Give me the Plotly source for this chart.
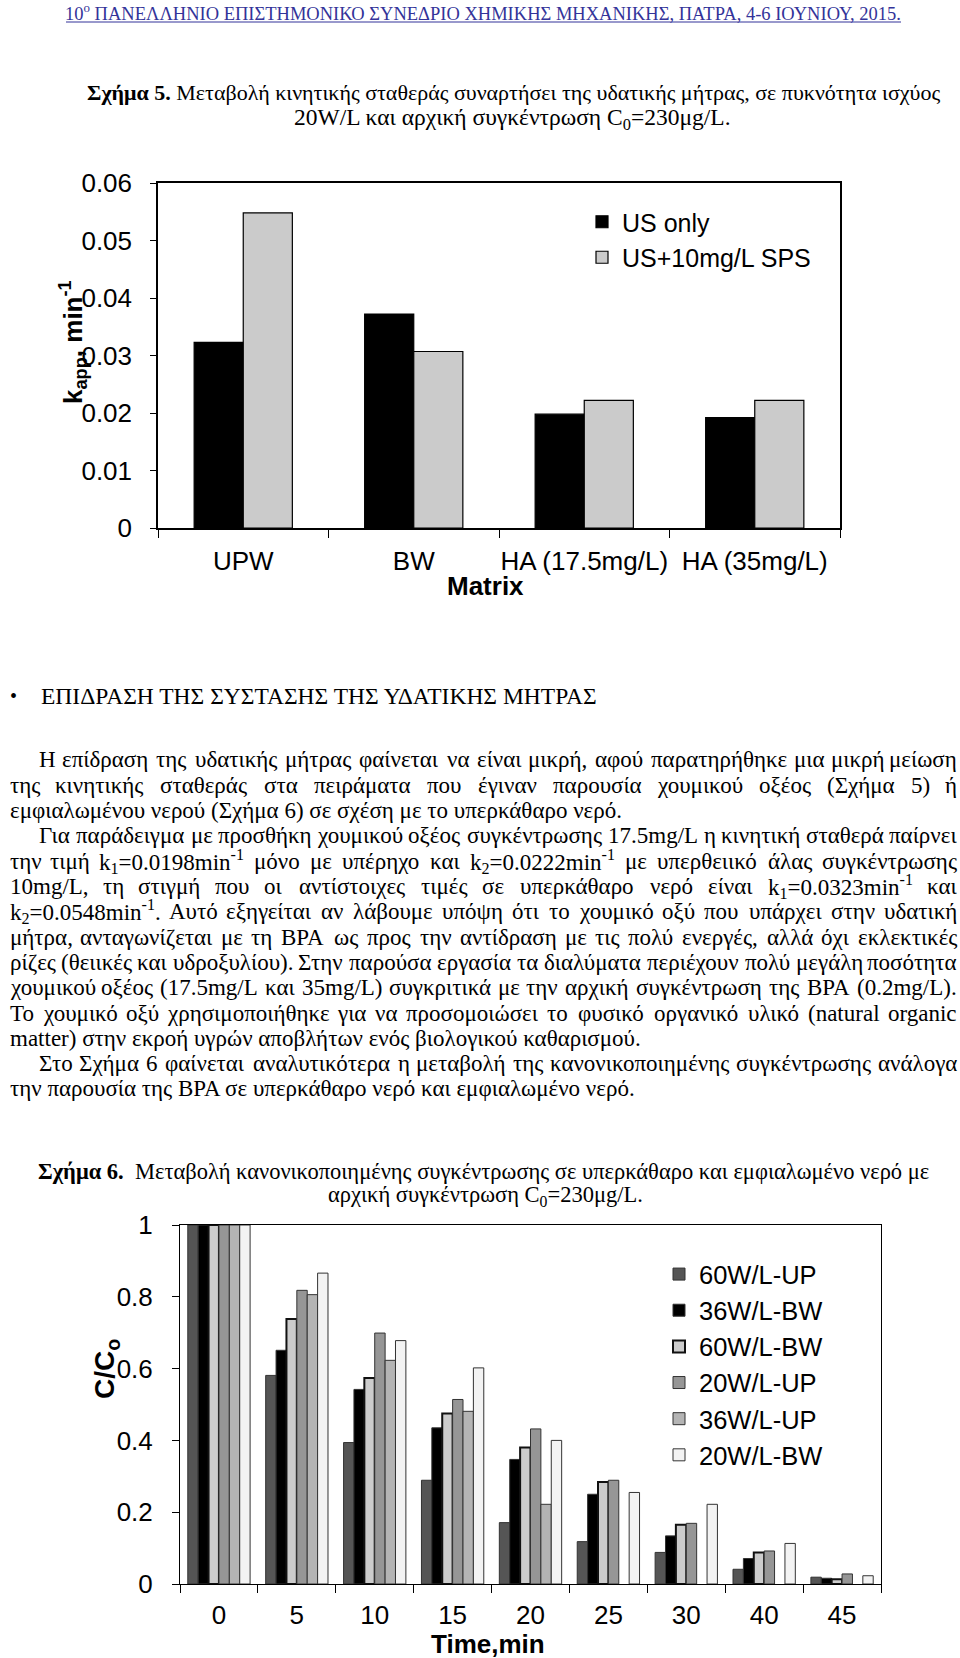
import re
import unicodedata
import plotly.graph_objects as go

W, H = 960, 1658
def fx(x): return x / W
def fy(y): return 1 - y / H

# ---------------- Chart data ----------------
matrix = ["UPW", "BW", "HA (17.5mg/L)", "HA (35mg/L)"]
k_us_only = [0.0323, 0.0372, 0.0198, 0.0192]
k_us_sps = [0.0548, 0.0307, 0.0222, 0.0222]

times = ["0", "5", "10", "15", "20", "25", "30", "40", "45"]
c_60_up = [1.0, 0.581, 0.394, 0.289, 0.171, 0.118, 0.088, 0.041, 0.019]
c_36_bw = [1.0, 0.651, 0.542, 0.435, 0.347, 0.250, 0.134, 0.071, 0.016]
c_60_bw = [1.0, 0.738, 0.574, 0.475, 0.380, 0.284, 0.165, 0.088, 0.013]
c_20_up = [1.0, 0.818, 0.699, 0.514, 0.432, 0.289, 0.169, 0.092, 0.028]
c_36_up = [1.0, 0.806, 0.623, 0.481, 0.222, None, None, None, None]
c_20_bw = [1.0, 0.866, 0.678, 0.602, 0.400, 0.255, 0.222, 0.113, 0.023]

series2_names = ["60W/L-UP", "36W/L-BW", "60W/L-BW", "20W/L-UP", "36W/L-UP", "20W/L-BW"]
series2_values = [c_60_up, c_36_bw, c_60_bw, c_20_up, c_36_up, c_20_bw]
series2_colors = ["#555555", "#000000", "#cccccc", "#969696", "#b4b4b4", "#f3f3f3"]
series2_line_w = [1, 1, 2, 1, 1, 1]

# ---------------- Page text ----------------
header = "10<sup>ο</sup> ΠΑΝΕΛΛΗΝΙΟ ΕΠΙΣΤΗΜΟΝΙΚΟ ΣΥΝΕΔΡΙΟ ΧΗΜΙΚΗΣ ΜΗΧΑΝΙΚΗΣ, ΠΑΤΡΑ, 4-6 ΙΟΥΝΙΟΥ, 2015."
cap5 = ["<b>Σχήμα 5.</b> Μεταβολή κινητικής σταθεράς συναρτήσει της υδατικής μήτρας, σε πυκνότητα ισχύος",
        "20W/L και αρχική συγκέντρωση C<sub>0</sub>=230μg/L."]
cap6 = ["<b>Σχήμα 6.</b>  Μεταβολή κανονικοποιημένης συγκέντρωσης σε υπερκάθαρο και εμφιαλωμένο νερό με",
        "αρχική συγκέντρωση C<sub>0</sub>=230μg/L."]
heading = "ΕΠΙΔΡΑΣΗ ΤΗΣ ΣΥΣΤΑΣΗΣ ΤΗΣ ΥΔΑΤΙΚΗΣ ΜΗΤΡΑΣ"
# (text, indented, justified)
body = [
    ("Η επίδραση της υδατικής μήτρας φαίνεται να είναι μικρή, αφού παρατηρήθηκε μια μικρή μείωση", True, True),
    ("της κινητικής σταθεράς στα πειράματα που έγιναν παρουσία χουμικού οξέος (Σχήμα 5) ή", False, True),
    ("εμφιαλωμένου νερού (Σχήμα 6) σε σχέση με το υπερκάθαρο νερό.", False, False),
    ("Για παράδειγμα με προσθήκη χουμικού οξέος συγκέντρωσης 17.5mg/L η κινητική σταθερά παίρνει", True, True),
    ("την τιμή k<sub>1</sub>=0.0198min<sup>-1</sup> μόνο με υπέρηχο και k<sub>2</sub>=0.0222min<sup>-1</sup> με υπερθειικό άλας συγκέντρωσης", False, True),
    ("10mg/L, τη στιγμή που οι αντίστοιχες τιμές σε υπερκάθαρο νερό είναι k<sub>1</sub>=0.0323min<sup>-1</sup> και", False, True),
    ("k<sub>2</sub>=0.0548min<sup>-1</sup>. Αυτό εξηγείται αν λάβουμε υπόψη ότι το χουμικό οξύ που υπάρχει στην υδατική", False, True),
    ("μήτρα, ανταγωνίζεται με τη ΒΡΑ ως προς την αντίδραση με τις πολύ ενεργές, αλλά όχι εκλεκτικές", False, True),
    ("ρίζες (θειικές και υδροξυλίου). Στην παρούσα εργασία τα διαλύματα περιέχουν πολύ μεγάλη ποσότητα", False, True),
    ("χουμικού οξέος (17.5mg/L και 35mg/L) συγκριτικά με την αρχική συγκέντρωση της ΒΡΑ (0.2mg/L).", False, True),
    ("Το χουμικό οξύ χρησιμοποιήθηκε για να προσομοιώσει το φυσικό οργανικό υλικό (natural organic", False, True),
    ("matter) στην εκροή υγρών αποβλήτων ενός βιολογικού καθαρισμού.", False, False),
    ("Στο Σχήμα 6 φαίνεται αναλυτικότερα η μεταβολή της κανονικοποιημένης συγκέντρωσης ανάλογα", True, True),
    ("την παρουσία της ΒΡΑ σε υπερκάθαρο νερό και εμφιαλωμένο νερό.", False, False),
]
body_y0, body_dy = 760, 25.3
BODY_SIZE = 23

SERIF = "Liberation Serif, Times New Roman, serif"
SANS = "Liberation Sans, Arial, sans-serif"

# approximate Times advance widths (1/1000 em), used only to space justified words
_TW = {" ": 250, "(": 333, ")": 333, ",": 250, "-": 333, ".": 250, "/": 278, "=": 564, ":": 278}
_TW.update({d: 500 for d in "0123456789"})
_TW.update(dict(zip("ABCDEFGHIJKLMNOPQRSTUVWXYZ",
                    [722, 667, 667, 722, 611, 556, 722, 722, 333, 389, 722, 611, 889, 722, 722, 556, 722, 667, 556, 611, 722, 722, 944, 722, 722, 611])))
_TW.update(dict(zip("abcdefghijklmnopqrstuvwxyz",
                    [444, 500, 444, 500, 444, 333, 500, 500, 278, 278, 500, 278, 778, 500, 500, 500, 500, 333, 389, 278, 500, 500, 722, 500, 500, 444])))
_TW.update(dict(zip("ΑΒΓΔΕΖΗΘΙΚΛΜΝΞΟΠΡΣΤΥΦΧΨΩ",
                    [722, 667, 578, 643, 611, 611, 722, 722, 333, 722, 704, 889, 722, 643, 722, 722, 556, 582, 611, 722, 763, 722, 795, 768])))
_TW.update(dict(zip("αβγδεζηθικλμνξοπρςστυφχψω",
                    [537, 500, 441, 500, 419, 437, 500, 481, 258, 501, 483, 500, 455, 429, 500, 517, 500, 419, 525, 415, 480, 630, 481, 656, 690])))

def char_w(ch):
    if ch in _TW:
        return _TW[ch]
    base = unicodedata.normalize("NFD", ch)[0]
    return _TW.get(base, 500)

def word_w(word, size):
    tot, sc = 0.0, 1.0
    for part in re.split(r"(<[^>]+>)", word):
        if part.startswith("<"):
            sc = 0.7 if part in ("<sub>", "<sup>") else 1.0
            continue
        for ch in part:
            tot += char_w(ch) * sc
    return tot * size / 1000.0

fig = go.Figure()

# ---------------- Chart 1 ----------------
fig.add_trace(go.Bar(x=matrix, y=k_us_only, name="US only", xaxis="x", yaxis="y",
                     width=0.288, offset=-0.288, legend="legend",
                     marker=dict(color="#000000", line=dict(color="#000000", width=1.2))))
fig.add_trace(go.Bar(x=matrix, y=k_us_sps, name="US+10mg/L SPS", xaxis="x", yaxis="y",
                     width=0.288, offset=0.0, legend="legend",
                     marker=dict(color="#cbcbcb", line=dict(color="#000000", width=1.2))))

# ---------------- Chart 2 ----------------
for nm, vals, col, lw in zip(series2_names, series2_values, series2_colors, series2_line_w):
    fig.add_trace(go.Bar(x=times, y=vals, name=nm, xaxis="x2", yaxis="y2", legend="legend2",
                         marker=dict(color=col, line=dict(color="#111111" if lw > 1 else "#333333", width=lw))))

axis_common = dict(showgrid=False, zeroline=False, showline=True, linecolor="#000000",
                   mirror=True, ticks="outside", tickcolor="#000000", color="#000000",
                   automargin=False)

fig.update_layout(
    template="none",
    width=W, height=H, autosize=False,
    margin=dict(l=0, r=0, t=0, b=0, pad=0, autoexpand=False),
    paper_bgcolor="white", plot_bgcolor="white",
    barmode="group", bargap=0.2, bargroupgap=0,
    font=dict(family=SANS, color="#000000"),
    xaxis=dict(domain=[fx(158), fx(840)], anchor="y", type="category", range=[-0.5, 3.5],
               tickson="boundaries", ticklen=8, linewidth=1.5, tickwidth=1, tickangle=0,
               tickfont=dict(family=SANS, size=26), ticklabelstandoff=9, **axis_common),
    yaxis=dict(domain=[fy(528), fy(183)], anchor="x", range=[0, 0.06], dtick=0.01,
               ticklen=6, linewidth=1.5, tickwidth=1,
               tickfont=dict(family=SANS, size=26), ticklabelstandoff=13, **axis_common),
    xaxis2=dict(domain=[fx(180), fx(881)], anchor="y2", type="category", range=[-0.5, 8.5],
                tickson="boundaries", ticklen=8, linewidth=1, tickwidth=1, tickangle=0,
                tickfont=dict(family=SANS, size=26), ticklabelstandoff=8, **axis_common),
    yaxis2=dict(domain=[fy(1584), fy(1225)], anchor="x2", range=[0, 1], dtick=0.2,
                ticklen=7, linewidth=1, tickwidth=1,
                tickfont=dict(family=SANS, size=26), ticklabelstandoff=14, **axis_common),
    legend=dict(x=fx(582), y=fy(199), xanchor="left", yanchor="top", traceorder="normal",
                font=dict(family=SANS, size=25), bgcolor="rgba(0,0,0,0)", borderwidth=0),
    legend2=dict(x=fx(659), y=fy(1251), xanchor="left", yanchor="top", traceorder="normal",
                 font=dict(family=SANS, size=25.5), bgcolor="rgba(0,0,0,0)", borderwidth=0),
)

anns = []
def ann(text, x, y, anchor="left", size=BODY_SIZE, family=SERIF, color="#000000", angle=0):
    anns.append(dict(text=text, x=fx(x), y=fy(y), xref="paper", yref="paper",
                     xanchor=anchor, yanchor="middle", showarrow=False, textangle=angle,
                     borderpad=0, font=dict(family=family, size=size, color=color)))

def text_line(text, y, x0, x1, justify, size=BODY_SIZE):
    if not justify:
        ann(text, x0, y, "left", size)
        return
    words = text.split()
    ws = [word_w(w, size) for w in words]
    n = len(words)
    gap = (x1 - x0 - sum(ws)) / (n - 1)
    pos = x0
    for k, (w, wd) in enumerate(zip(words, ws)):
        if k == 0:
            ann(w, x0, y, "left", size)
        elif k == n - 1:
            ann(w, x1, y, "right", size)
        else:
            ann(w, pos + wd / 2, y, "center", size)
        pos += wd + gap

# header
ann(header, 483, 12, "center", 18.5, SERIF, "#333399")
# captions
ann(cap5[0], 513, 93, "center", 22)
ann(cap5[1], 512, 119, "center", 23.5)
ann(cap6[0], 483, 1171, "center", 22.5)
ann(cap6[1], 485, 1196, "center", 22.5)
# heading
ann("•", 9, 696, "left", 20)
ann(heading, 40, 696, "left", 23.5)
# body
for i, (t, ind, just) in enumerate(body):
    text_line(t, body_y0 + i * body_dy, 38 if ind else 8.5, 958, just)

# chart titles
ann("<b>k<sub>app</sub>, min<sup>-1</sup></b>", 73, 342, "center", 26, SANS, angle=-90)
ann("<b>Matrix</b>", 485, 586, "center", 26, SANS)
ann("<b>C/C<sub>o</sub></b>", 106, 1369, "center", 28, SANS, angle=-90)
ann("<b>Time,min</b>", 488, 1644, "center", 26, SANS)

fig.update_layout(annotations=anns,
                  shapes=[dict(type="line", xref="paper", yref="paper",
                               x0=fx(66), x1=fx(901), y0=fy(22), y1=fy(22),
                               line=dict(color="#333399", width=1))])

fig.write_html("out.html")
